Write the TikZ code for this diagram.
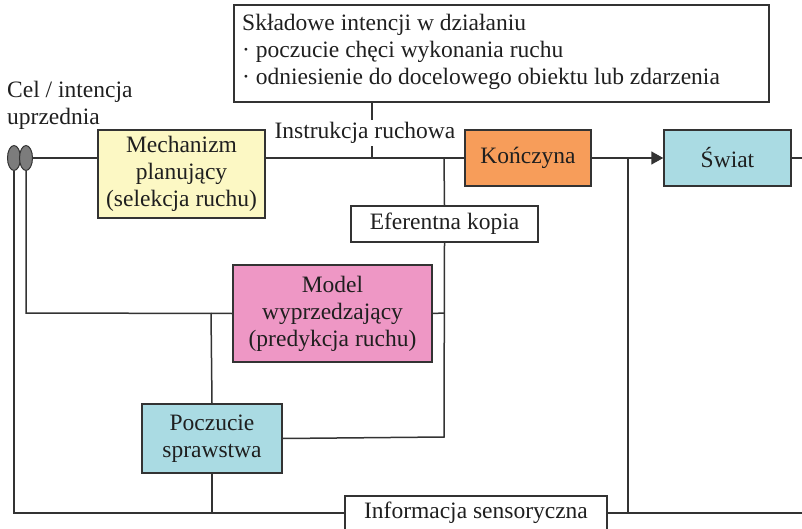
\documentclass[tikz,border=0pt]{standalone}
\usepackage{fontspec}
\setmainfont{Liberation Serif}
\usetikzlibrary{arrows.meta,shapes.geometric}
\definecolor{ink}{HTML}{333333}
\definecolor{planfill}{HTML}{FCF8C4}
\definecolor{limbfill}{HTML}{F79D5A}
\definecolor{worldfill}{HTML}{AADBE3}
\definecolor{modelfill}{HTML}{EE97C5}
\definecolor{ovalfill}{HTML}{7C7C7C}
\tikzset{
  box/.style={draw=ink, line width=1.5pt, inner sep=0pt, align=center,
    minimum width=#1},
  wire/.style={draw=ink, line width=1.5pt},
  label/.style={inner sep=2pt, align=left},
  oval/.style={ellipse, draw=ink, line width=1pt, fill=ovalfill,
    minimum width=13pt, minimum height=25pt, inner sep=0pt},
}
\begin{document}
\begin{tikzpicture}[x=1pt, y=-1pt, font=\fontsize{23.5}{27}\selectfont, text=black!88]
\useasboundingbox (0,0) rectangle (802,529);
\clip (0,0) rectangle (802,529);

% boxes
\node[box=535pt, minimum height=97pt] (intent) at (501.5,53.5) {};
\node[label, anchor=north west, align=left] (intenttxt) at (240,12)
  {Składowe intencji w działaniu\\
   · poczucie chęci wykonania ruchu\\
   · odniesienie do docelowego obiektu lub zdarzenia};
\node[box=167pt, minimum height=88pt, fill=planfill] (plan) at (181.5,174)
  {Mechanizm\\planujący\\(selekcja ruchu)};
\node[box=126pt, minimum height=56pt, fill=limbfill] (limb) at (528,158) {Kończyna};
\node[box=127pt, minimum height=56pt, fill=worldfill] (world) at (727.5,158) {Świat};
\node[box=187pt, minimum height=36pt, fill=white] (efer) at (444.5,224) {Eferentna kopia};
\node[box=199pt, minimum height=97pt, fill=modelfill] (model) at (332.5,313.5)
  {Model\\wyprzedzający\\(predykcja ruchu)};
\node[box=140pt, minimum height=69pt, fill=worldfill] (agency) at (212,438.5)
  {Poczucie\\sprawstwa};
\node[box=262pt, minimum height=34pt, fill=white] (sens) at (476,513)
  {Informacja sensoryczna};

% goal markers
\node[oval] (ovL) at (14,158) {};
\node[oval] (ovR) at (26,158) {};
\node[label, anchor=north west] (goal) at (5,79) {Cel / intencja\\uprzednia};

% junction points
\coordinate (tick) at (372,158);
\coordinate (eferTop) at (444,158);
\coordinate (feedTop) at (628,158);
\coordinate (feedBot) at (628,513);
\coordinate (rightTop) at (802,158);
\coordinate (rightBot) at (802,513);
\coordinate (modelIn) at (26,313);
\coordinate (agencyTap) at (211,313);
\coordinate (agencyIn) at (444,437);
\coordinate (modelOut) at (444,313);
\coordinate (leftBot) at (14,513);

% forward path
\draw[wire] (ovR.east) -- (ovR.east -| plan.west);
\draw[wire] (plan.east |- limb.west) -- (limb.west);
\draw[wire, -{Triangle[length=12pt,width=13pt]}] (limb.east) -- (world.west);
\draw[wire] (world.east) -- (rightTop);
\draw[wire] (intent.south -| tick) -- (tick);
\node[label, fill=white] (instr) at (365,133) {Instrukcja ruchowa};

% efference copy and prediction
\draw[wire] (eferTop) -- (efer.north);
\draw[wire] (efer.south) -- (agencyIn) -- (agency.east);
\draw[wire] (modelOut) -- (model.east);
\draw[wire] (ovR.south) -- (modelIn) -- (model.west);
\draw[wire] (agencyTap) -- (agency.north);

% sensory feedback
\draw[wire] (feedTop) -- (feedBot);
\draw[wire] (ovL.south) -- (leftBot) -- (sens.west);
\draw[wire] (agency.south) -- (agency.south |- sens.west);
\draw[wire] (sens.east) -- (rightBot);
\end{tikzpicture}
\end{document}
